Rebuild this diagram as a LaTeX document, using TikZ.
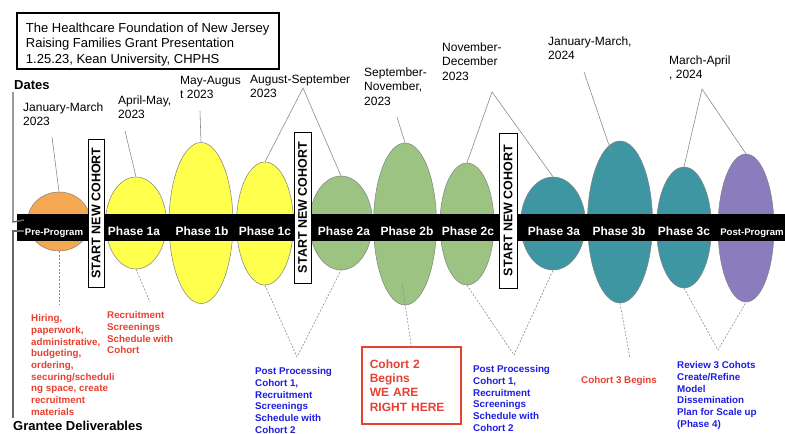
\documentclass[tikz,border=0pt]{standalone}
\usepackage{fontspec}
\setmainfont{Liberation Sans}
\usetikzlibrary{shapes.geometric}
\definecolor{cOrange}{RGB}{245,168,82}
\definecolor{cYellow}{RGB}{255,255,77}
\definecolor{cGreen}{RGB}{157,195,130}
\definecolor{cTeal}{RGB}{62,150,163}
\definecolor{cPurple}{RGB}{139,124,190}
\definecolor{cRed}{RGB}{232,65,50}
\definecolor{cBlue}{RGB}{30,30,225}
\definecolor{cLine}{RGB}{140,140,140}
\begin{document}
\begin{tikzpicture}[x=1pt,y=-1pt,
  ph/.style={ellipse, draw=black!50, line width=0.5pt, inner sep=0pt},
  plab/.style={text=white, font=\bfseries\fontsize{12}{14}\selectfont, anchor=base, inner sep=0pt},
  datelbl/.style={anchor=north west, align=left, inner sep=0pt, font=\fontsize{12}{14.3}\selectfont},
  deliv/.style={anchor=north west, align=left, inner sep=0pt, font=\bfseries\fontsize{9.8}{11.7}\selectfont},
  cohortbox/.style={draw=black, fill=white, line width=0.8pt, rotate=90, inner sep=0pt, font=\bfseries\fontsize{12.5}{14}\selectfont},
  dateline/.style={draw=cLine, line width=0.6pt},
  delivline/.style={draw=cLine, line width=0.6pt, dash pattern=on 2pt off 1.5pt},
  axisline/.style={draw=black!60, line width=1.4pt},
  heading/.style={anchor=north west, inner sep=0pt, font=\bfseries\fontsize{13}{15}\selectfont}
]
\useasboundingbox (0,0) rectangle (785,434);
\clip (0,0) rectangle (785,434);
\fill[white] (0,0) rectangle (785,434);

% title
\node[draw=black, line width=1.5pt, anchor=north west, inner xsep=9pt, inner ysep=0pt,
      minimum width=262pt, minimum height=56pt, align=left,
      font=\fontsize{13}{15.5}\selectfont] (title) at (16,12)
  {\rule{0pt}{19.7pt}The Healthcare Foundation of New Jersey\\Raising Families Grant Presentation\\1.25.23, Kean University, CHPHS\rule[-5.3pt]{0pt}{0pt}};

\node[heading] (dates) at (14,80.2) {Dates};
\node[heading] (grantee) at (13,421.2) {Grantee Deliverables};

% ellipses
\node[ph, fill=cOrange, minimum width=63pt, minimum height=59pt] (e0) at (59,221.5) {};
\node[ph, fill=cYellow, minimum width=61pt, minimum height=92pt] (e1a) at (136,223) {};
\node[ph, fill=cYellow, minimum width=64pt, minimum height=161pt] (e1b) at (201,223) {};
\node[ph, fill=cYellow, minimum width=57pt, minimum height=123pt] (e1c) at (265,223.5) {};
\node[ph, fill=cGreen, minimum width=63pt, minimum height=94pt] (e2a) at (341,223) {};
\node[ph, fill=cGreen, minimum width=63pt, minimum height=162pt] (e2b) at (405,224) {};
\node[ph, fill=cGreen, minimum width=54pt, minimum height=122pt] (e2c) at (467,224) {};
\node[ph, fill=cTeal, minimum width=65pt, minimum height=93pt] (e3a) at (553,223.5) {};
\node[ph, fill=cTeal, minimum width=65pt, minimum height=162pt] (e3b) at (620,222) {};
\node[ph, fill=cTeal, minimum width=55pt, minimum height=121pt] (e3c) at (684,227.5) {};
\node[ph, fill=cPurple, minimum width=56pt, minimum height=148pt] (epost) at (746,228) {};

% band
\fill[black] (17,214) rectangle (785,241);

% axis with break
\draw[axisline] (13,92) -- (13,222) -- (24,220);
\draw[axisline] (24,231) -- (13,231) -- (13,418);

% phase labels
\node[plab, font=\bfseries\fontsize{9.6}{12}\selectfont] (p0) at (54,235.5) {Pre-Program};
\node[plab] (p1a) at (134,235.5) {Phase 1a};
\node[plab] (p1b) at (202,235.5) {Phase 1b};
\node[plab] (p1c) at (265,235.5) {Phase 1c};
\node[plab] (p2a) at (344,235.5) {Phase 2a};
\node[plab] (p2b) at (407,235.5) {Phase 2b};
\node[plab] (p2c) at (468,235.5) {Phase 2c};
\node[plab] (p3a) at (554,235.5) {Phase 3a};
\node[plab] (p3b) at (619,235.5) {Phase 3b};
\node[plab] (p3c) at (684,235.5) {Phase 3c};
\node[plab, font=\bfseries\fontsize{9.6}{12}\selectfont] (ppost) at (752,235.5) {Post-Program};

% start new cohort boxes
\node[cohortbox, minimum width=148pt, minimum height=16pt] (snc1) at (96,213) {START NEW COHORT};
\node[cohortbox, minimum width=151pt, minimum height=17pt] (snc2) at (302.5,207.5) {START NEW COHORT};
\node[cohortbox, minimum width=155pt, minimum height=18pt] (snc3) at (508,210.5) {START NEW COHORT};

% date labels
\node[datelbl] (d1) at (23,102.6) {January-March\\2023};
\node[datelbl] (d2) at (118,95.6) {April-May,\\2023};
\node[datelbl] (d3) at (180,75.6) {May-Augus\\t 2023};
\node[datelbl] (d4) at (250,74.6) {August-September\\2023};
\node[datelbl] (d5) at (364,67.6) {September-\\November,\\2023};
\node[datelbl] (d6) at (442,42.6) {November-\\December\\2023};
\node[datelbl] (d7) at (548,36.6) {January-March,\\2024};
\node[datelbl] (d8) at (669,55.6) {March-April\\, 2024};

% date connectors
\coordinate (d1t) at (52,137);
\coordinate (d2t) at (125,131);
\coordinate (d3t) at (200,111);
\coordinate (A1) at (303,88);
\coordinate (d5t) at (397,117);
\coordinate (A2) at (492,92);
\coordinate (d7t) at (584,72);
\coordinate (d7h) at (612,154);
\coordinate (A3) at (702,89);
\draw[dateline] (d1t) -- (e0.north);
\draw[dateline] (d2t) -- (e1a.north);
\draw[dateline] (d3t) -- (e1b.north);
\draw[dateline] (e1c.north) -- (A1) -- (e2a.north);
\draw[dateline] (d5t) -- (e2b.north);
\draw[dateline] (e2c.north) -- (A2) -- (e3a.north);
\draw[dateline] (d7t) -- (d7h);
\draw[dateline] (e3c.north) -- (A3) -- (epost.north);

% deliverables
\node[deliv, text=cRed] (t0) at (31,314.4) {Hiring,\\paperwork,\\administrative,\\budgeting,\\ordering,\\securing/scheduli\\ng space, create\\recruitment\\materials};
\node[deliv, text=cRed] (t1) at (107,311.4) {Recruitment\\Screenings\\Schedule with\\Cohort};
\node[deliv, text=cBlue] (t2) at (255,367.4) {Post Processing\\Cohort 1,\\Recruitment\\Screenings\\Schedule with\\Cohort 2};
\node[draw=cRed, line width=1.6pt, anchor=north west, text=cRed, align=left,
      minimum width=99pt, minimum height=77pt, text width=83pt, inner xsep=8pt, inner ysep=0pt,
      font=\bfseries\fontsize{12}{14.3}\selectfont] (r2) at (361,346)
  {Cohort 2\\Begins\\WE ARE\\RIGHT HERE};
\node[deliv, text=cBlue] (t3) at (473,365.4) {Post Processing\\Cohort 1,\\Recruitment\\Screenings\\Schedule with\\Cohort 2};
\node[deliv, text=cRed] (t4) at (581,376.4) {Cohort 3 Begins};
\node[deliv, text=cBlue] (t5) at (677,361.4) {Review 3 Cohots\\Create/Refine\\Model\\Dissemination\\Plan for Scale up\\(Phase 4)};

% deliverable connectors
\coordinate (dl0) at (59,305);
\coordinate (dl1) at (150,302);
\coordinate (B1) at (297,357);
\coordinate (dl2) at (402,283);
\coordinate (B2) at (514,355);
\coordinate (dl3) at (630,358);
\coordinate (B3) at (718,350);
\draw[delivline] (e0.south) -- (dl0);
\draw[delivline] (e1a.south) -- (dl1);
\draw[delivline] (e1c.south) -- (B1) -- (e2a.south);
\draw[delivline] (dl2) -- (r2.north);
\draw[delivline] (e2c.south) -- (B2) -- (e3a.south);
\draw[delivline] (e3b.south) -- (dl3);
\draw[delivline] (e3c.south) -- (B3) -- (epost.south);
\end{tikzpicture}
\end{document}
